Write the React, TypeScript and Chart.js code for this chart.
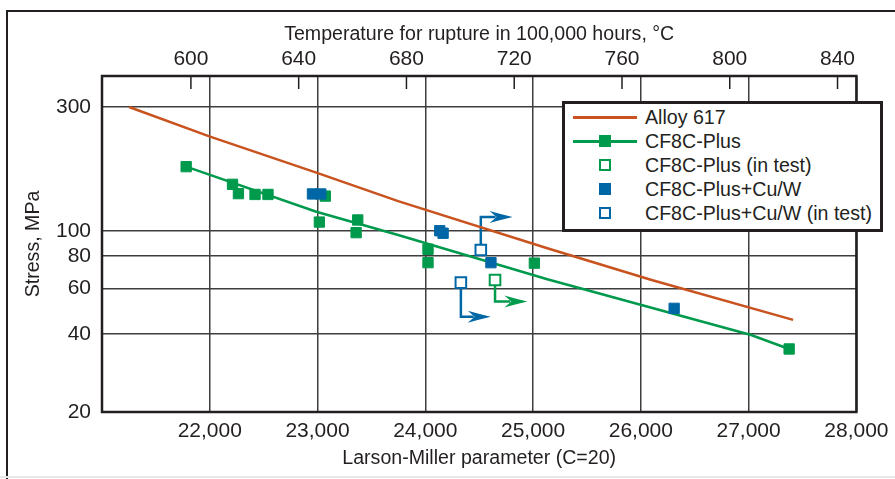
import React, { useEffect, useRef } from 'react';
import { Chart, registerables } from 'chart.js';

Chart.register(...registerables);

const FONT_FAMILY = "'Liberation Sans', Arial, Helvetica, sans-serif";
const INK = '#231f20';
const GRID = '#3d3d3d';
const ORANGE = '#c9531f';
const GREEN = '#009a4d';
const BLUE = '#0067a6';

// ---- axes ----
const LM_CONSTANT = 20;
const RUPTURE_HOURS = 100000;
const LMP_MIN = 21000;
const LMP_MAX = 28000;
const lmpTicks = [22000, 23000, 24000, 25000, 26000, 27000, 28000];
const temperatureTicks = [600, 640, 680, 720, 760, 800, 840];
const STRESS_MIN = 20;
const STRESS_MAX = 395;
const stressTicks = [20, 40, 60, 80, 100, 300];

const lmpToTemp = (lmp: number) => lmp / (LM_CONSTANT + Math.log10(RUPTURE_HOURS)) - 273;

// ---- series names ----
const SERIES_ALLOY = 'Alloy 617';
const SERIES_CF8C = 'CF8C-Plus';
const SERIES_CF8C_TEST = 'CF8C-Plus (in test)';
const SERIES_CUW = 'CF8C-Plus+Cu/W';
const SERIES_CUW_TEST = 'CF8C-Plus+Cu/W (in test)';

// ---- data ----
const alloy617LMP = [21251, 21996, 22989, 23748, 25132, 26100, 27413];
const alloy617Stress = [300, 231, 167.5, 130, 85.6, 64.6, 45.3];

const cf8cFitLMP = [21781, 22989, 23748, 25132, 27023, 27376];
const cf8cFitStress = [176.6, 118.4, 96.3, 65.0, 39.6, 35.0];

const cf8cLMP = [21781, 22211, 22266, 22420, 22540, 23072, 23017, 23373, 23358, 24025, 24025, 25012, 27376];
const cf8cStress = [176.6, 151, 139, 138, 138, 136, 108, 110, 98.3, 84.8, 75.3, 75, 35.0];

const cf8cInTestLMP = [24647];
const cf8cInTestStress = [64.6];
const cf8cArrowBendStress = [53.3];
const cf8cArrowEndLMP = [24947];

const cuwLMP = [22953, 23030, 24134, 24165, 24609, 26309];
const cuwStress = [138.6, 138.6, 100, 97.8, 75.3, 50.2];

const cuwInTestLMP = [24515, 24330];
const cuwInTestStress = [84.3, 63.1];
const cuwArrowBendStress = [113, 46.6];
const cuwArrowEndLMP = [24810, 24607];

const zip = (xs: number[], ys: number[]) => xs.map((x, i) => ({ x, y: ys[i] }));

const legendEntries = [
  { label: SERIES_ALLOY, color: ORANGE, line: true, marker: '' },
  { label: SERIES_CF8C, color: GREEN, line: true, marker: 'filled' },
  { label: SERIES_CF8C_TEST, color: GREEN, line: false, marker: 'open' },
  { label: SERIES_CUW, color: BLUE, line: false, marker: 'filled' },
  { label: SERIES_CUW_TEST, color: BLUE, line: false, marker: 'open' },
];

const annotatePlugin = {
  id: 'annotate',
  beforeDatasetsDraw(chart: any) {
    const { ctx } = chart;
    const xs = chart.scales.x;
    const ys = chart.scales.y;
    const groups = [
      { color: GREEN, lmp: cf8cInTestLMP, stress: cf8cInTestStress, bend: cf8cArrowBendStress, end: cf8cArrowEndLMP },
      { color: BLUE, lmp: cuwInTestLMP, stress: cuwInTestStress, bend: cuwArrowBendStress, end: cuwArrowEndLMP },
    ];
    ctx.save();
    groups.forEach((g) =>
      g.lmp.forEach((v, i) => {
        const x0 = xs.getPixelForValue(v);
        const y0 = ys.getPixelForValue(g.stress[i]);
        const yb = ys.getPixelForValue(g.bend[i]);
        const xt = xs.getPixelForValue(g.end[i]);
        const headLen = 23;
        const headHalf = 6;
        ctx.strokeStyle = g.color;
        ctx.lineWidth = 2.5;
        ctx.lineJoin = 'miter';
        ctx.beginPath();
        ctx.moveTo(x0, y0);
        ctx.lineTo(x0, yb);
        ctx.lineTo(xt - headLen + 6, yb);
        ctx.stroke();
        ctx.fillStyle = g.color;
        ctx.beginPath();
        ctx.moveTo(xt, yb);
        ctx.quadraticCurveTo(xt - headLen * 0.55, yb - headHalf * 0.5, xt - headLen, yb - headHalf);
        ctx.lineTo(xt - headLen + 7, yb);
        ctx.lineTo(xt - headLen, yb + headHalf);
        ctx.quadraticCurveTo(xt - headLen * 0.55, yb + headHalf * 0.5, xt, yb);
        ctx.closePath();
        ctx.fill();
      })
    );
    ctx.restore();
  },
  afterDatasetsDraw(chart: any) {
    const { ctx, chartArea: a } = chart;
    const top = chart.scales.xTop;
    ctx.save();
    ctx.strokeStyle = INK;
    ctx.lineWidth = 1.5;
    top.ticks.forEach((t: any) => {
      const px = top.getPixelForValue(t.value);
      ctx.beginPath();
      ctx.moveTo(px, a.top);
      ctx.lineTo(px, a.top + 13);
      ctx.stroke();
    });
    ctx.lineWidth = 2.5;
    ctx.strokeRect(a.left, a.top, a.right - a.left, a.bottom - a.top);
    ctx.restore();
  },
};

function Legend() {
  return (
    <div
      style={{
        position: 'absolute',
        left: 562,
        top: 101,
        width: 321,
        height: 131,
        boxSizing: 'border-box',
        border: `3px solid ${INK}`,
        background: '#fff',
        fontFamily: FONT_FAMILY,
        fontSize: 19.6,
        color: INK,
      }}
    >
      {legendEntries.map((e, i) => (
        <div key={e.label} style={{ position: 'absolute', left: 0, top: 1 + i * 24, width: 310, height: 24 }}>
          {e.line && (
            <div style={{ position: 'absolute', left: 8, top: 11, width: 64, height: 2.5, background: e.color }} />
          )}
          {e.marker && (
            <div
              style={{
                position: 'absolute',
                left: 34,
                top: 6,
                width: 12,
                height: 12,
                boxSizing: 'border-box',
                background: e.marker === 'filled' ? e.color : '#fff',
                border: `2px solid ${e.color}`,
              }}
            />
          )}
          <div style={{ position: 'absolute', left: 80, top: 0, lineHeight: '24px', whiteSpace: 'nowrap' }}>{e.label}</div>
        </div>
      ))}
    </div>
  );
}

export default function App() {
  const canvasRef = useRef<HTMLCanvasElement>(null);

  useEffect(() => {
    const canvas = canvasRef.current!;
    const tickFont = { family: FONT_FAMILY, size: 21 };
    const titleFont = { family: FONT_FAMILY, size: 19.6 };
    const chart = new Chart(canvas, {
      type: 'scatter',
      data: {
        datasets: [
          {
            label: SERIES_ALLOY,
            data: zip(alloy617LMP, alloy617Stress),
            showLine: true,
            borderColor: ORANGE,
            borderWidth: 2.5,
            pointRadius: 0,
            order: 10,
          },
          {
            label: SERIES_CF8C + ' fit',
            data: zip(cf8cFitLMP, cf8cFitStress),
            showLine: true,
            borderColor: GREEN,
            borderWidth: 2.5,
            pointRadius: 0,
            order: 9,
          },
          {
            label: SERIES_CF8C,
            data: zip(cf8cLMP, cf8cStress),
            pointStyle: 'rect',
            pointRadius: 7.3,
            backgroundColor: GREEN,
            borderColor: GREEN,
            borderWidth: 1,
            order: 3,
          },
          {
            label: SERIES_CUW,
            data: zip(cuwLMP, cuwStress),
            pointStyle: 'rect',
            pointRadius: 7.3,
            backgroundColor: BLUE,
            borderColor: BLUE,
            borderWidth: 1,
            order: 2,
          },
          {
            label: SERIES_CF8C_TEST,
            data: zip(cf8cInTestLMP, cf8cInTestStress),
            pointStyle: 'rect',
            pointRadius: 7.5,
            backgroundColor: '#fff',
            borderColor: GREEN,
            borderWidth: 2,
            order: 1,
          },
          {
            label: SERIES_CUW_TEST,
            data: zip(cuwInTestLMP, cuwInTestStress),
            pointStyle: 'rect',
            pointRadius: 7.5,
            backgroundColor: '#fff',
            borderColor: BLUE,
            borderWidth: 2,
            order: 1,
          },
        ],
      },
      options: {
        responsive: false,
        animation: false,
        layout: { padding: { left: 0, right: 34, top: 0, bottom: 0 } },
        plugins: { legend: { display: false }, tooltip: { enabled: false } },
        scales: {
          x: {
            type: 'linear',
            position: 'bottom',
            min: LMP_MIN,
            max: LMP_MAX,
            grid: { color: GRID, lineWidth: 1.5, drawTicks: false },
            border: { display: false },
            afterBuildTicks: (s: any) => {
              s.ticks = lmpTicks.map((v) => ({ value: v }));
            },
            afterFit: (s: any) => {
              s.height = 67;
            },
            ticks: {
              font: tickFont,
              color: INK,
              padding: 6.5,
              maxRotation: 0,
              autoSkip: false,
              callback: (v: any) => Number(v).toLocaleString('en-US'),
            },
            title: {
              display: true,
              text: 'Larson-Miller parameter (C=20)',
              font: titleFont,
              color: INK,
              padding: { top: 0, bottom: 9 },
            },
          },
          xTop: {
            type: 'linear',
            axis: 'x',
            position: 'top',
            min: lmpToTemp(LMP_MIN),
            max: lmpToTemp(LMP_MAX),
            grid: { display: false, drawTicks: false },
            border: { display: false },
            afterBuildTicks: (s: any) => {
              s.ticks = temperatureTicks.map((v) => ({ value: v }));
            },
            afterFit: (s: any) => {
              s.height = 76;
            },
            ticks: {
              font: tickFont,
              color: INK,
              padding: 4,
              maxRotation: 0,
              autoSkip: false,
              callback: (v: any) => String(v),
            },
            title: {
              display: true,
              text: 'Temperature for rupture in 100,000 hours, °C',
              font: titleFont,
              color: INK,
              padding: { top: 23, bottom: 0 },
            },
          },
          y: {
            type: 'logarithmic',
            min: STRESS_MIN,
            max: STRESS_MAX,
            grid: { color: GRID, lineWidth: 1.5, drawTicks: false },
            border: { display: false },
            afterBuildTicks: (s: any) => {
              s.ticks = stressTicks.map((v) => ({ value: v }));
            },
            afterFit: (s: any) => {
              s.width = 102;
            },
            ticks: {
              font: tickFont,
              color: INK,
              padding: 11,
              autoSkip: false,
              callback: (v: any) => String(v),
            },
            title: {
              display: true,
              text: 'Stress, MPa',
              font: titleFont,
              color: INK,
              padding: { top: 22, bottom: 0 },
            },
          },
        },
      } as any,
      plugins: [annotatePlugin],
    });
    return () => chart.destroy();
  }, []);

  return (
    <div style={{ position: 'fixed', left: 0, top: 0, width: 895, height: 479, background: '#fff', overflow: 'hidden' }}>
      <div
        style={{
          position: 'absolute',
          left: 6,
          top: 10,
          width: 900,
          height: 480,
          borderLeft: `2px solid ${INK}`,
          borderTop: `2px solid ${INK}`,
        }}
      />
      <div style={{ position: 'absolute', left: 0, top: 476, width: 895, height: 2, background: '#e8e8e8' }} />
      <canvas ref={canvasRef} width={895} height={479} style={{ position: 'absolute', left: 0, top: 0 }} />
      <Legend />
    </div>
  );
}
